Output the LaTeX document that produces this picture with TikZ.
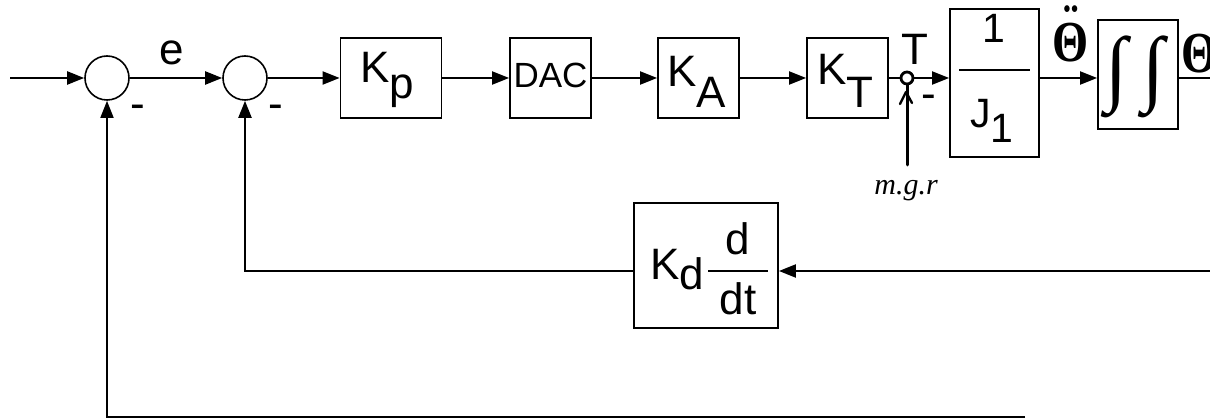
\documentclass[tikz,border=0pt]{standalone}
\usepackage{fontspec}
\setmainfont{Liberation Sans}
\newfontfamily\thetafont{Liberation Serif}
\newfontfamily\handfont{Liberation Serif}
\usetikzlibrary{arrows.meta}

\begin{document}
\begin{tikzpicture}[x=1pt,y=-1pt,
  blk/.style={draw, line width=1.8pt, inner sep=0pt},
  sum/.style={circle, draw, line width=1.6pt, minimum size=44pt, inner sep=0pt},
  wire/.style={line width=2pt},
  arr/.style={wire, -{Triangle[length=17pt,width=13pt]}},
  lbl/.style={inner sep=0pt, font=\fontsize{44}{48}\selectfont},
  lblm/.style={inner sep=0pt, font=\fontsize{41}{44}\selectfont},
  theta/.style={inner sep=0pt, font=\thetafont\bfseries\fontsize{58}{60}\selectfont},
  hand/.style={inner sep=0pt, font=\handfont\itshape\fontsize{30}{32}\selectfont},
  intg/.style={inner sep=0pt, font=\thetafont},
  bar/.style={line width=2.8pt}
]
\useasboundingbox (0,0) rectangle (1210,419);

% summing junctions
\node[sum] (s1) at (107,78) {};
\node[sum] (s2) at (245,78) {};
\node[circle, draw, line width=2.8pt, minimum size=12pt, inner sep=0pt] (tj) at (907,78) {};

% blocks
\node[blk, minimum width=101pt, minimum height=80pt]  (Kp)  at (391,78) {};
\node[blk, minimum width=81pt,  minimum height=80pt]  (DAC) at (550.5,78) {};
\node[blk, minimum width=81pt,  minimum height=80pt]  (KA)  at (698.5,78) {};
\node[blk, minimum width=81pt,  minimum height=80pt]  (KT)  at (847.5,78) {};
\node[blk, minimum width=89pt,  minimum height=148pt] (J)   at (994.5,83) {};
\node[blk, minimum width=80pt,  minimum height=109pt] (Int) at (1138,74.5) {};
\node[blk, minimum width=144pt, minimum height=125pt] (Kd)  at (706,265.5) {};

% block texts
\node[lbl, anchor=base west] (tKp) at (360,83) {K\raisebox{-16pt}{p}};
\node[inner sep=0pt, font=\fontsize{35}{40}\selectfont, anchor=base] (tDAC) at (550.5,88) {DAC};
\node[lbl, anchor=base west] (tKA) at (667,87) {K\raisebox{-21pt}{A}};
\node[lbl, anchor=base west] (tKT) at (817,85) {K\raisebox{-23pt}{T}};
\node[lblm, anchor=base] (tone) at (994,43) {1};
\draw[bar] (959,70) -- (1030,70);
\node[lblm, anchor=base west] (tJ) at (970,128) {J\raisebox{-15pt}{1}};
\node[lbl, anchor=base west] (tKd) at (650,280) {K\raisebox{-10pt}{d}};
\draw[bar] (708,271) -- (768,271);
\node[lbl, anchor=base] (tdn) at (738,255) {d};
\node[lbl, anchor=base] (tdd) at (738,315) {dt};
\node[intg] (int1) at (1116,76.5) {\resizebox*{22pt}{82pt}{∫}};
\node[intg] (int2) at (1153,76.5) {\resizebox*{22pt}{82pt}{∫}};

% signal labels
\node[lbl, anchor=base] (te) at (171.5,65) {e};
\node[lbl, anchor=base] (m1) at (138,119) {-};
\node[lbl, anchor=base] (m2) at (275.5,119) {-};
\node[lbl, anchor=base] (tT) at (915,65) {T};
\node[theta, anchor=base] (thdd) at (1071,62)
  {\scalebox{0.8}[1]{\ooalign{Θ\cr\hidewidth\raisebox{17pt}{¨}\hidewidth\cr}}};
\node[theta, anchor=base west] (th) at (1181,73) {\scalebox{0.8}[1]{Θ}};

% forward path
\coordinate (in) at (10,78);
\coordinate (out) at (1215,78);
\draw[arr] (in) -- (s1.west);
\draw[arr] (s1.east) -- (s2.west);
\draw[arr] (s2.east) -- (Kp.west);
\draw[arr] (Kp.east) -- (DAC.west);
\draw[arr] (DAC.east) -- (KA.west);
\draw[arr] (KA.east) -- (KT.west);
\draw[wire] (KT.east) -- (tj.west);
\draw[arr] (tj.east) -- (tj.east -| J.west);
\draw[arr] (J.east |- tj) -- (Int.west |- tj);
\draw[wire] (Int.east |- tj) -- (out);

% feedback paths
\coordinate (fbin) at (1215,271);
\coordinate (fbo) at (1025,417);
\draw[arr] (fbin) -- (Kd.east |- fbin);
\draw[arr] (Kd.west |- fbin) -| (s2.south);
\draw[arr, line width=1.6pt] (fbo) -| (s1.south);

% disturbance torque, added by hand
\coordinate (dist) at (907,165);
\draw[line width=3pt, line cap=round] (tj.south) -- (dist);
\draw[line width=2.4pt, line cap=round, line join=round] (900,104) -- (906,92) -- (912,103);
\node[lbl, anchor=base] (m3) at (929,109) {-};
\node[hand, anchor=base] (tmgr) at (906,195) {m.g.r};
\end{tikzpicture}
\end{document}
